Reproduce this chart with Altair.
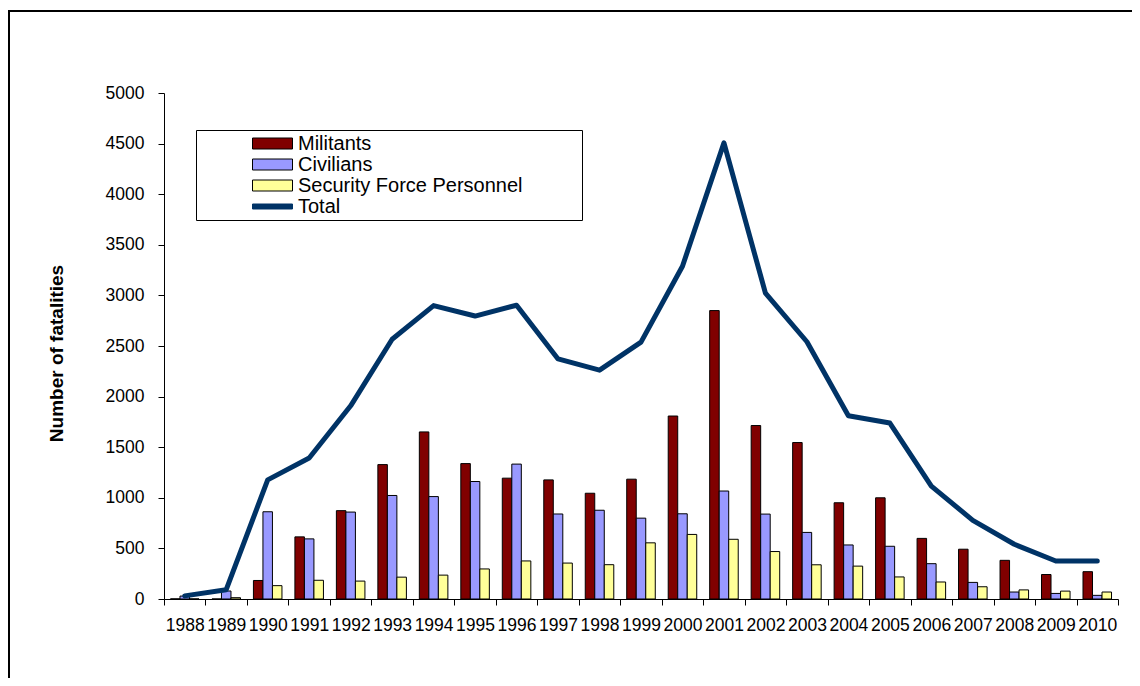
import altair as alt
import pandas as pd

years = [str(y) for y in range(1988, 2011)]
militants = [1, 0, 183, 614, 873, 1328, 1651, 1338, 1194, 1177, 1045, 1184,
             1808, 2850, 1714, 1546, 951, 1000, 599, 492, 382, 242, 270]
civilians = [29, 79, 862, 594, 859, 1023, 1012, 1161, 1333, 840, 877, 799,
             842, 1067, 839, 658, 534, 521, 349, 164, 69, 55, 36]
security = [1, 13, 132, 185, 177, 216, 236, 297, 376, 355, 339, 555,
            638, 590, 469, 338, 325, 218, 168, 121, 90, 78, 69]
total = [31, 92, 1177, 1393, 1909, 2567, 2899, 2796, 2903, 2372, 2261, 2538,
         3288, 4507, 3022, 2542, 1810, 1739, 1116, 777, 541, 375, 375]

series_names = ["Militants", "Civilians", "Security Force Personnel", "Total"]
series_colors = ["#800000", "#9999FF", "#FFFF99", "#003366"]

rows = []
for i, y in enumerate(years):
    rows.append({"year": y, "series": "Militants", "value": militants[i]})
    rows.append({"year": y, "series": "Civilians", "value": civilians[i]})
    rows.append({"year": y, "series": "Security Force Personnel", "value": security[i]})
bars_df = pd.DataFrame(rows)
line_df = pd.DataFrame({"year": years, "value": total})

FONT = "Liberation Sans"
W, H = 954, 506

color_scale = alt.Scale(domain=series_names, range=series_colors)
pad = "\u00a0" * 10 + "\u200b"
legend = alt.Legend(
    title=None,
    orient="none",
    legendX=32,
    legendY=37,
    padding=3,
    strokeColor="black",
    fillColor="white",
    symbolSize=400,
    symbolType=alt.ExprRef(expr="datum.value == 'Total' ? 'M-2,-0.25H2V0.25H-2Z' : 'M-2,-0.55H2V0.55H-2Z'"),
    symbolStrokeColor=alt.ExprRef(expr="datum.value == 'Total' ? '#003366' : 'black'"),
    symbolStrokeWidth=1,
    symbolOffset=63,
    labelOffset=15,
    labelFont=FONT,
    labelFontSize=20,
    labelColor="black",
    labelLimit=600,
    rowPadding=-0.5,
    labelExpr="datum.label + '" + pad + "'",
)

x_enc = alt.X(
    "year:O",
    sort=years,
    scale=alt.Scale(paddingInner=0, paddingOuter=0),
    axis=alt.Axis(
        title=None,
        labelAngle=0,
        tickBand="extent",
        tickSize=6,
        tickColor="black",
        domainColor="black",
        labelFont=FONT,
        labelFontSize=17.5,
        labelColor="black",
        labelPadding=11,
        labelOverlap=False,
    ),
)

y_enc = alt.Y(
    "value:Q",
    scale=alt.Scale(domain=[0, 5000], nice=False),
    axis=alt.Axis(
        title="Number of fatalities",
        values=list(range(0, 5001, 500)),
        format="d",
        grid=False,
        tickSize=6,
        tickColor="black",
        domainColor="black",
        labelFont=FONT,
        labelFontSize=17.5,
        labelColor="black",
        labelPadding=14,
        titleFont=FONT,
        titleFontSize=19,
        titleFontWeight="bold",
        titleColor="black",
        titleAngle=270,
        titleAlign="center",
        titleBaseline="middle",
        titleX=-108,
        titleY=260,
    ),
)

bars = alt.Chart(bars_df).mark_bar(stroke="black", strokeWidth=1).encode(
    x=x_enc,
    xOffset=alt.XOffset(
        "series:N",
        scale=alt.Scale(domain=series_names[:3], paddingInner=0, paddingOuter=0.68),
    ),
    y=y_enc,
    color=alt.Color("series:N", scale=color_scale, legend=legend),
)

line = alt.Chart(line_df).mark_line(
    color="#003366", strokeWidth=5, strokeCap="round", strokeJoin="round"
).encode(
    x=alt.X("year:O", sort=years),
    y=alt.Y("value:Q"),
)

frame_df = pd.DataFrame({"k": [0]})
top_rule = alt.Chart(frame_df).mark_rule(color="black", strokeWidth=2).encode(
    x=alt.value(-156), x2=alt.value(968), y=alt.value(-82)
)
left_rule = alt.Chart(frame_df).mark_rule(color="black", strokeWidth=2).encode(
    x=alt.value(-155), y=alt.value(-83), y2=alt.value(585)
)

chart = alt.layer(bars, line, top_rule, left_rule).properties(
    width=W,
    height=H,
    autosize=alt.AutoSizeParams(type="none"),
    padding={"left": 156, "top": 85, "right": 14, "bottom": 79},
    background="white",
).configure_view(stroke=None)

chart.save("out.html", embed_options={"renderer": "svg", "actions": False})
